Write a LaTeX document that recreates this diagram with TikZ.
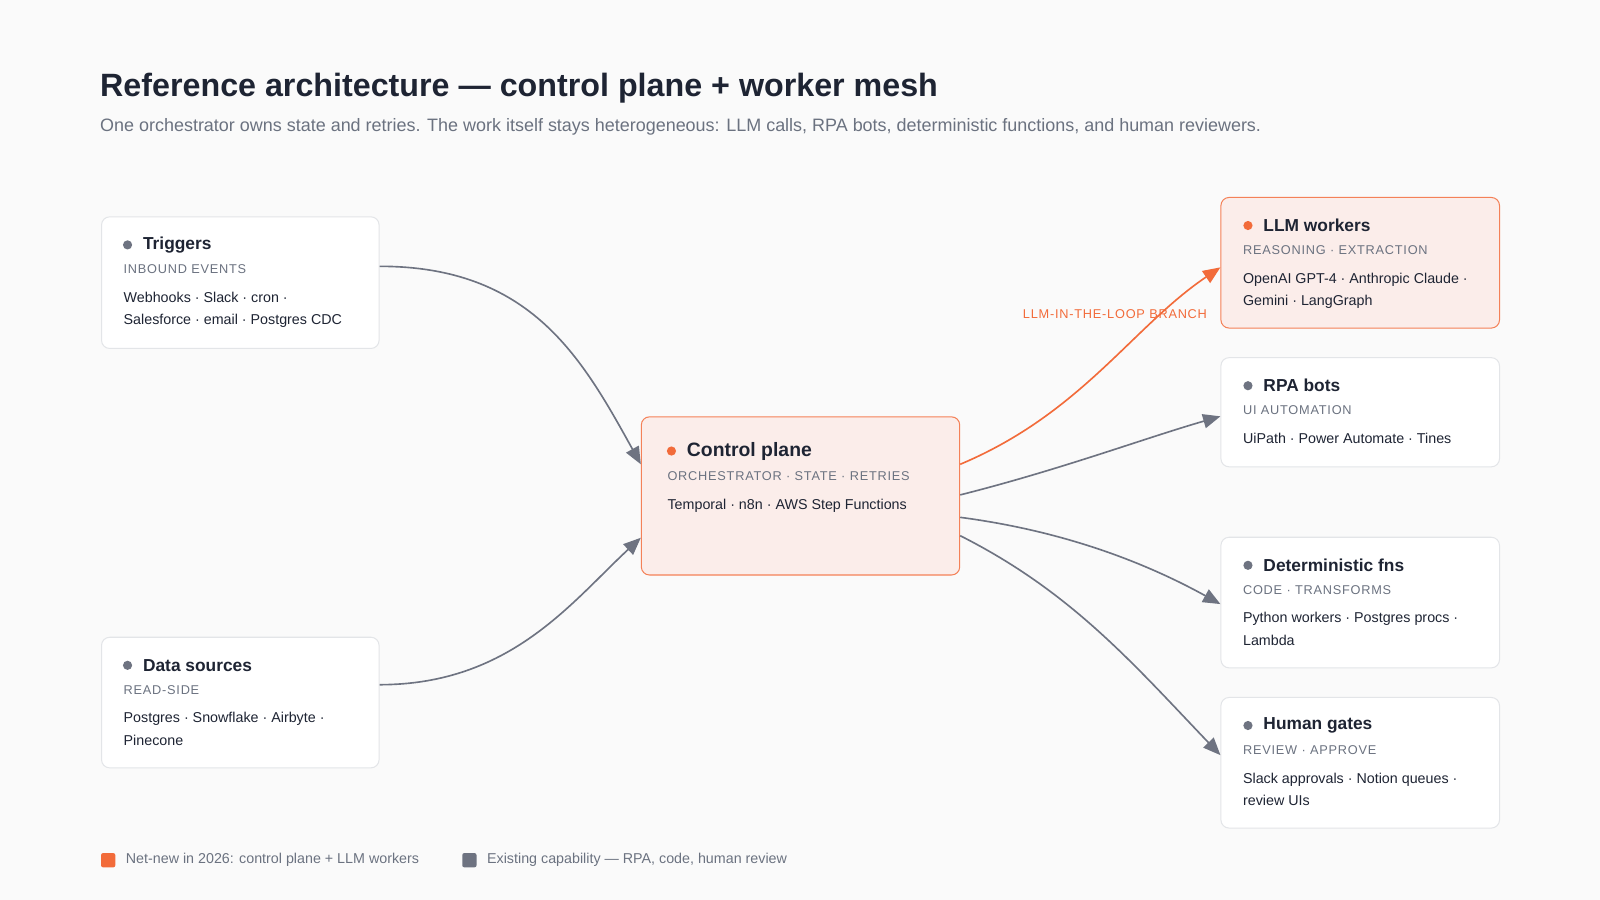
\documentclass[tikz,border=0pt]{standalone}
\usepackage{fontspec}
\setmainfont{Liberation Sans}
\usetikzlibrary{positioning,arrows.meta}
\definecolor{bg}{HTML}{FAFAFA}
\definecolor{ink}{HTML}{1E2433}
\definecolor{muted}{HTML}{6B7280}
\definecolor{edge}{HTML}{E3E5E8}
\definecolor{accent}{HTML}{F26B3A}
\definecolor{accentbg}{HTML}{FBEDEA}
\definecolor{wire}{HTML}{6E7381}
\tikzset{
  box/.style = {draw=edge, fill=white, rounded corners=8pt, line width=1pt, anchor=north west, inner sep=0pt},
  newbox/.style = {box, draw=accent!85, fill=accentbg},
  head/.style = {anchor=west, inner sep=0pt, font=\fontsize{17}{20}\selectfont\bfseries, text=ink},
  tag/.style = {anchor=west, inner sep=0pt, font=\fontsize{12.5}{15}\selectfont\addfontfeature{LetterSpace=6}, text=muted},
  body/.style = {anchor=north west, inner sep=0pt, align=left, font=\fontsize{14}{22}\selectfont, text=ink},
  dot/.style = {circle, fill=#1, minimum size=9pt, inner sep=0pt},
  link/.style = {draw=wire, line width=1.6pt, -{Triangle[length=17pt,width=14pt]}},
  hot/.style = {link, draw=accent}
}
\begin{document}
\begin{tikzpicture}[x=1pt, y=-1pt]
\fill[bg] (0,0) rectangle (1568,882);
\useasboundingbox (0,0) rectangle (1568,882);
% title
\node[anchor=west, inner sep=0pt, font=\fontsize{31.6}{36}\selectfont\bfseries, text=ink] (title) at (98,86) {Reference architecture — control plane + worker mesh};
\node[anchor=west, inner sep=0pt, font=\fontsize{17.6}{20}\selectfont, text=muted] (sub) at (98,124) {One orchestrator owns state and retries. The work itself stays heterogeneous: LLM calls, RPA bots, deterministic functions, and human reviewers.};
% boxes
\node[box, minimum width=272pt, minimum height=129pt] (trig) at (99,212) {};
\node[box, minimum width=272pt, minimum height=128pt] (data) at (99,624) {};
\node[newbox, minimum width=312pt, minimum height=155pt] (ctl) at (628,408) {};
\node[newbox, minimum width=273pt, minimum height=128pt] (llm) at (1196,193) {};
\node[box, minimum width=273pt, minimum height=107pt] (rpa) at (1196,350) {};
\node[box, minimum width=273pt, minimum height=128pt] (det) at (1196,526) {};
\node[box, minimum width=273pt, minimum height=128pt] (hum) at (1196,683) {};
% texts
\node[dot=wire] at (125,240) {};
\node[head] at (140,240) {Triggers};
\node[tag] at (121,264) {INBOUND EVENTS};
\node[body] at (121,286) {Webhooks · Slack · cron ·\\Salesforce · email · Postgres CDC};
\node[dot=wire] at (125,652) {};
\node[head] at (140,652) {Data sources};
\node[tag] at (121,676) {READ-SIDE};
\node[body] at (121,698) {Postgres · Snowflake · Airbyte ·\\Pinecone};
\node[dot=accent] at (658,442) {};
\node[head, font=\fontsize{19}{22}\selectfont\bfseries] at (673,442) {Control plane};
\node[tag] at (654,467) {ORCHESTRATOR · STATE · RETRIES};
\node[body] at (654,489) {Temporal · n8n · AWS Step Functions};
\node[dot=accent] at (1223,221) {};
\node[head] at (1238,221) {LLM workers};
\node[tag] at (1218,245) {REASONING · EXTRACTION};
\node[body] at (1218,267) {OpenAI GPT-4 · Anthropic Claude ·\\Gemini · LangGraph};
\node[dot=wire] at (1223,378) {};
\node[head] at (1238,378) {RPA bots};
\node[tag] at (1218,402) {UI AUTOMATION};
\node[body] at (1218,424) {UiPath · Power Automate · Tines};
\node[dot=wire] at (1223,554) {};
\node[head] at (1238,554) {Deterministic fns};
\node[tag] at (1218,578) {CODE · TRANSFORMS};
\node[body] at (1218,600) {Python workers · Postgres procs ·\\Lambda};
\node[dot=wire] at (1223,711) {};
\node[head] at (1238,711) {Human gates};
\node[tag] at (1218,735) {REVIEW · APPROVE};
\node[body] at (1218,757) {Slack approvals · Notion queues ·\\review UIs};
% connectors
\draw[link] (trig.east |- 0,261) .. controls (520,261) and (570,350) .. (ctl.west |- 0,455);
\draw[link] (data.east |- 0,671) .. controls (500,671) and (560,590) .. (ctl.west |- 0,527);
\draw[hot] (ctl.east |- 0,455) .. controls (1060,405) and (1110,320) .. (llm.west |- 0,262);
\draw[link] (ctl.east |- 0,485) .. controls (1040,460) and (1120,430) .. (rpa.west |- 0,408);
\draw[link] (ctl.east |- 0,507) .. controls (1040,520) and (1120,550) .. (det.west |- 0,592);
\draw[link] (ctl.east |- 0,525) .. controls (1050,580) and (1110,650) .. (hum.west |- 0,740);
\node[anchor=east, inner sep=0pt, font=\fontsize{12.5}{15}\selectfont\addfontfeature{LetterSpace=6}, text=accent] (branch) at (1183,308) {LLM-IN-THE-LOOP BRANCH};
% legend
\node[fill=accent, rounded corners=2pt, minimum size=14pt, inner sep=0pt] (keynew) at (106,843) {};
\node[anchor=west, inner sep=0pt, font=\fontsize{14}{16}\selectfont, text=muted, right=10pt of keynew] {Net-new in 2026: control plane + LLM workers};
\node[fill=wire, rounded corners=2pt, minimum size=14pt, inner sep=0pt] (keyold) at (460,843) {};
\node[anchor=west, inner sep=0pt, font=\fontsize{14}{16}\selectfont, text=muted, right=10pt of keyold] {Existing capability — RPA, code, human review};
\end{tikzpicture}
\end{document}
